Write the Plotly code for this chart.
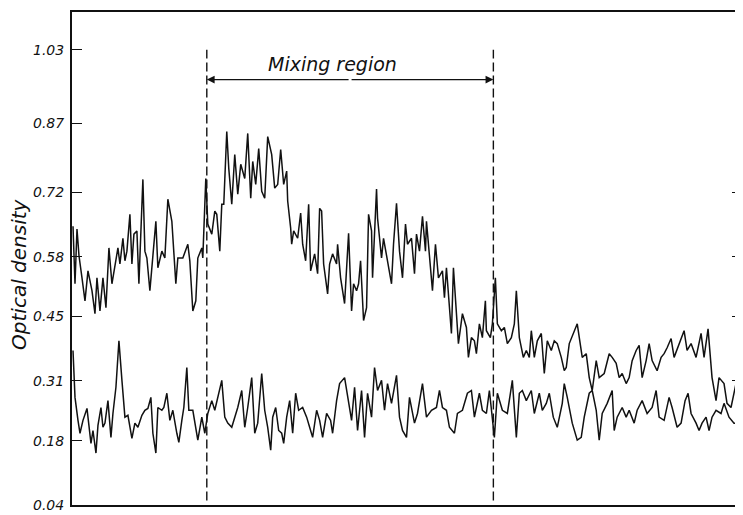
import plotly.graph_objects as go

# ---- data (position along the channel, optical density) ----
upper_pos = [
    1, 3, 5, 7, 10, 13, 16, 20, 23, 25,
    28, 31, 34, 37, 40, 43, 46, 48, 51, 53,
    55, 58, 60, 62, 65, 67, 71, 73, 75, 78,
    81, 84, 86, 90, 93, 96, 100, 104, 106, 111,
    116, 118, 121, 124, 126, 130, 131, 134, 136, 140,
    143, 145, 148, 150, 152, 155, 157, 160, 163, 166,
    169, 173, 176, 179, 181, 184, 187, 190, 193, 196,
    200, 203, 206, 209, 212, 215, 216, 219, 220, 222,
    226, 229, 231, 234, 237, 239, 243, 246, 248, 250,
    252, 256, 258, 261, 265, 266, 269, 273, 277, 280,
    282, 285, 287, 289, 292, 295, 297, 300, 301, 305,
    306, 310, 312, 316, 320, 322, 325, 328, 331, 334,
    336, 340, 343, 345, 348, 351, 354, 355, 358, 361,
    364, 367, 371, 373, 375, 378, 380, 382, 385, 387,
    391, 395, 397, 400, 403, 405, 408, 411, 414, 415,
    419, 421, 424, 426, 430, 433, 436, 440, 443, 445,
    448, 452, 455, 458, 460, 463, 466, 470, 473, 476,
    480, 483, 486, 490, 493, 495, 498, 502, 506, 511,
    515, 518, 521, 525, 528, 533, 538, 541, 545, 548,
    551, 555, 558, 561, 565, 568, 571, 575, 578, 581,
    586, 590, 593, 596, 600, 603, 608, 613, 616, 620,
    625, 630, 633, 637, 641, 645, 648, 653, 656, 660,
    665, 668, 670,
]
upper_od = [
    0.646, 0.521, 0.640, 0.582, 0.534, 0.484, 0.549, 0.506, 0.456, 0.534,
    0.462, 0.534, 0.469, 0.599, 0.521, 0.564, 0.599, 0.564, 0.620, 0.571,
    0.592, 0.672, 0.564, 0.629, 0.636, 0.521, 0.748, 0.592, 0.577, 0.506,
    0.577, 0.657, 0.556, 0.592, 0.577, 0.705, 0.657, 0.521, 0.577, 0.577,
    0.607, 0.571, 0.462, 0.484, 0.577, 0.599, 0.577, 0.750, 0.651, 0.629,
    0.679, 0.672, 0.592, 0.694, 0.694, 0.852, 0.772, 0.694, 0.802, 0.716,
    0.781, 0.750, 0.848, 0.707, 0.787, 0.737, 0.815, 0.722, 0.707, 0.841,
    0.802, 0.729, 0.737, 0.813, 0.737, 0.766, 0.701, 0.642, 0.607, 0.636,
    0.620, 0.675, 0.607, 0.571, 0.694, 0.549, 0.586, 0.543, 0.685, 0.679,
    0.564, 0.499, 0.564, 0.586, 0.564, 0.607, 0.534, 0.478, 0.631, 0.462,
    0.521, 0.506, 0.521, 0.571, 0.441, 0.469, 0.672, 0.636, 0.534, 0.727,
    0.664, 0.577, 0.620, 0.571, 0.521, 0.607, 0.696, 0.592, 0.534, 0.651,
    0.607, 0.620, 0.543, 0.629, 0.592, 0.668, 0.592, 0.657, 0.571, 0.506,
    0.607, 0.534, 0.549, 0.491, 0.556, 0.462, 0.413, 0.556, 0.462, 0.391,
    0.456, 0.426, 0.361, 0.404, 0.397, 0.369, 0.434, 0.404, 0.484, 0.419,
    0.404, 0.434, 0.534, 0.434, 0.419, 0.426, 0.391, 0.404, 0.434, 0.506,
    0.404, 0.361, 0.376, 0.361, 0.419, 0.361, 0.397, 0.413, 0.326, 0.397,
    0.376, 0.397, 0.391, 0.361, 0.332, 0.339, 0.391, 0.413, 0.434, 0.361,
    0.369, 0.317, 0.289, 0.354, 0.317, 0.326, 0.369, 0.361, 0.348, 0.317,
    0.326, 0.304, 0.317, 0.354, 0.376, 0.387, 0.317, 0.354, 0.391, 0.354,
    0.332, 0.361, 0.369, 0.382, 0.402, 0.361, 0.391, 0.419, 0.376, 0.391,
    0.361, 0.413, 0.361, 0.423, 0.317, 0.267, 0.317, 0.304, 0.261, 0.252,
    0.304, 0.231, 0.246,
]

lower_pos = [
    1, 3, 6, 8, 11, 15, 19, 21, 24, 26,
    29, 31, 33, 36, 39, 41, 44, 47, 50, 53,
    56, 60, 63, 66, 70, 73, 76, 79, 81, 84,
    86, 90, 92, 95, 98, 101, 105, 107, 110, 112,
    115, 117, 121, 126, 130, 133, 136, 140, 143, 146,
    150, 153, 156, 160, 163, 166, 170, 173, 176, 180,
    183, 186, 190, 193, 196, 199, 201, 204, 207, 210,
    212, 215, 218, 221, 224, 227, 231, 235, 238, 241,
    245, 248, 251, 255, 259, 261, 265, 268, 273, 276,
    280, 283, 286, 290, 293, 296, 300, 303, 306, 310,
    313, 316, 320, 325, 328, 331, 335, 338, 343, 346,
    351, 355, 360, 365, 368, 371, 375, 378, 383, 386,
    391, 396, 400, 403, 408, 411, 415, 418, 423, 426,
    431, 436, 441, 445, 448, 451, 455, 460, 463, 468,
    471, 475, 478, 482, 486, 491, 493, 496, 501, 506,
    510, 513, 518, 521, 525, 528, 531, 536, 541, 543,
    546, 551, 555, 558, 563, 566, 571, 576, 581, 585,
    588, 593, 598, 601, 606, 610, 614, 617, 620, 625,
    628, 631, 635, 638, 641, 645, 650, 653, 658, 663,
    670,
]
lower_od = [
    0.376, 0.274, 0.224, 0.196, 0.224, 0.250, 0.174, 0.202, 0.153, 0.213,
    0.252, 0.209, 0.218, 0.267, 0.187, 0.239, 0.296, 0.397, 0.311, 0.231,
    0.235, 0.185, 0.218, 0.209, 0.235, 0.246, 0.250, 0.274, 0.196, 0.153,
    0.252, 0.246, 0.252, 0.283, 0.224, 0.246, 0.196, 0.176, 0.224, 0.252,
    0.339, 0.246, 0.246, 0.181, 0.231, 0.196, 0.239, 0.267, 0.246, 0.274,
    0.311, 0.231, 0.218, 0.209, 0.231, 0.252, 0.289, 0.209, 0.252, 0.317,
    0.196, 0.218, 0.326, 0.246, 0.209, 0.159, 0.231, 0.252, 0.202, 0.196,
    0.174, 0.231, 0.267, 0.196, 0.283, 0.246, 0.252, 0.231, 0.209, 0.187,
    0.246, 0.224, 0.187, 0.239, 0.224, 0.196, 0.267, 0.304, 0.317, 0.274,
    0.224, 0.296, 0.202, 0.289, 0.187, 0.283, 0.231, 0.339, 0.289, 0.311,
    0.246, 0.304, 0.261, 0.322, 0.231, 0.202, 0.187, 0.274, 0.218, 0.239,
    0.304, 0.231, 0.246, 0.252, 0.289, 0.252, 0.246, 0.209, 0.196, 0.239,
    0.246, 0.283, 0.289, 0.231, 0.283, 0.246, 0.239, 0.289, 0.187, 0.283,
    0.246, 0.239, 0.311, 0.187, 0.283, 0.289, 0.267, 0.289, 0.239, 0.283,
    0.246, 0.261, 0.283, 0.231, 0.209, 0.261, 0.304, 0.274, 0.218, 0.181,
    0.187, 0.231, 0.283, 0.289, 0.246, 0.181, 0.239, 0.261, 0.289, 0.202,
    0.231, 0.252, 0.231, 0.246, 0.218, 0.246, 0.267, 0.239, 0.252, 0.289,
    0.231, 0.224, 0.274, 0.252, 0.209, 0.218, 0.267, 0.283, 0.239, 0.218,
    0.202, 0.218, 0.231, 0.202, 0.231, 0.246, 0.239, 0.261, 0.231, 0.218,
    0.218,
]

y_ticks = [0.04, 0.18, 0.31, 0.45, 0.58, 0.72, 0.87, 1.03]
y_tick_labels = ["0.04", "0.18", "0.31", "0.45", "0.58", "0.72", "0.87", "1.03"]
right_ticks = [0.31, 0.45, 0.58, 0.72]

mixing_start = 135
mixing_end = 422
mixing_label = "Mixing region"
y_label = "Optical density"

FONT = "DejaVu Sans"
INK = "#111111"

fig = go.Figure()
fig.add_trace(go.Scatter(x=upper_pos, y=upper_od, mode="lines",
                         line=dict(color=INK, width=1.5), showlegend=False,
                         hoverinfo="skip"))
fig.add_trace(go.Scatter(x=lower_pos, y=lower_od, mode="lines",
                         line=dict(color=INK, width=1.5), showlegend=False,
                         hoverinfo="skip"))
# invisible trace so the right-hand tick axis is drawn
fig.add_trace(go.Scatter(x=[upper_pos[0]], y=[upper_od[0]], yaxis="y2",
                         mode="markers", marker=dict(opacity=0),
                         showlegend=False, hoverinfo="skip"))

for xv in (mixing_start, mixing_end):
    fig.add_shape(type="line", xref="x", yref="y", x0=xv, x1=xv, y0=0.05, y1=1.03,
                  line=dict(color=INK, width=1.4, dash="9px,4px"))

mid = (mixing_start + mixing_end) / 2
arrow_y = 0.965
for xv in (mixing_start, mixing_end):
    fig.add_annotation(x=xv, y=arrow_y, ax=mid, ay=arrow_y, axref="x", ayref="y",
                       xref="x", yref="y", showarrow=True, arrowhead=2,
                       arrowsize=1.2, arrowwidth=1.3, arrowcolor=INK, text="")

fig.add_annotation(x=mid - 18, y=0.998, xref="x", yref="y", text=mixing_label,
                   showarrow=False, xanchor="center", yanchor="middle",
                   font=dict(family=FONT, size=19, color=INK, style="italic"))

fig.add_annotation(x=-0.079, y=0.467, xref="paper", yref="paper", text=y_label,
                   textangle=-90, showarrow=False, xanchor="center", yanchor="middle",
                   font=dict(family=FONT, size=20, color=INK, style="italic"))

# The page body adds an 8 px margin, so the figure is sized to fit inside it.
fig.update_layout(
    width=735, height=507,
    margin=dict(l=64, r=2, t=2, b=10),
    paper_bgcolor="white", plot_bgcolor="white",
    xaxis=dict(range=[0, 670], showgrid=False, zeroline=False, showticklabels=False,
               ticks="", showline=True, linecolor=INK, linewidth=1.5, mirror=True),
    yaxis=dict(range=[0.04, 1.112], showgrid=False, zeroline=False,
               tickvals=y_ticks, ticktext=y_tick_labels,
               ticks="inside", ticklen=10, tickwidth=1.3, tickcolor=INK,
               showline=True, linecolor=INK, linewidth=2,
               ticklabelstandoff=3,
               tickfont=dict(family=FONT, size=14, color=INK, style="italic")),
    yaxis2=dict(range=[0.04, 1.112], overlaying="y", side="right",
                showgrid=False, zeroline=False, showline=False,
                tickvals=right_ticks, showticklabels=False,
                ticks="inside", ticklen=9, tickwidth=1.2, tickcolor=INK),
)

fig.write_html("out.html")
